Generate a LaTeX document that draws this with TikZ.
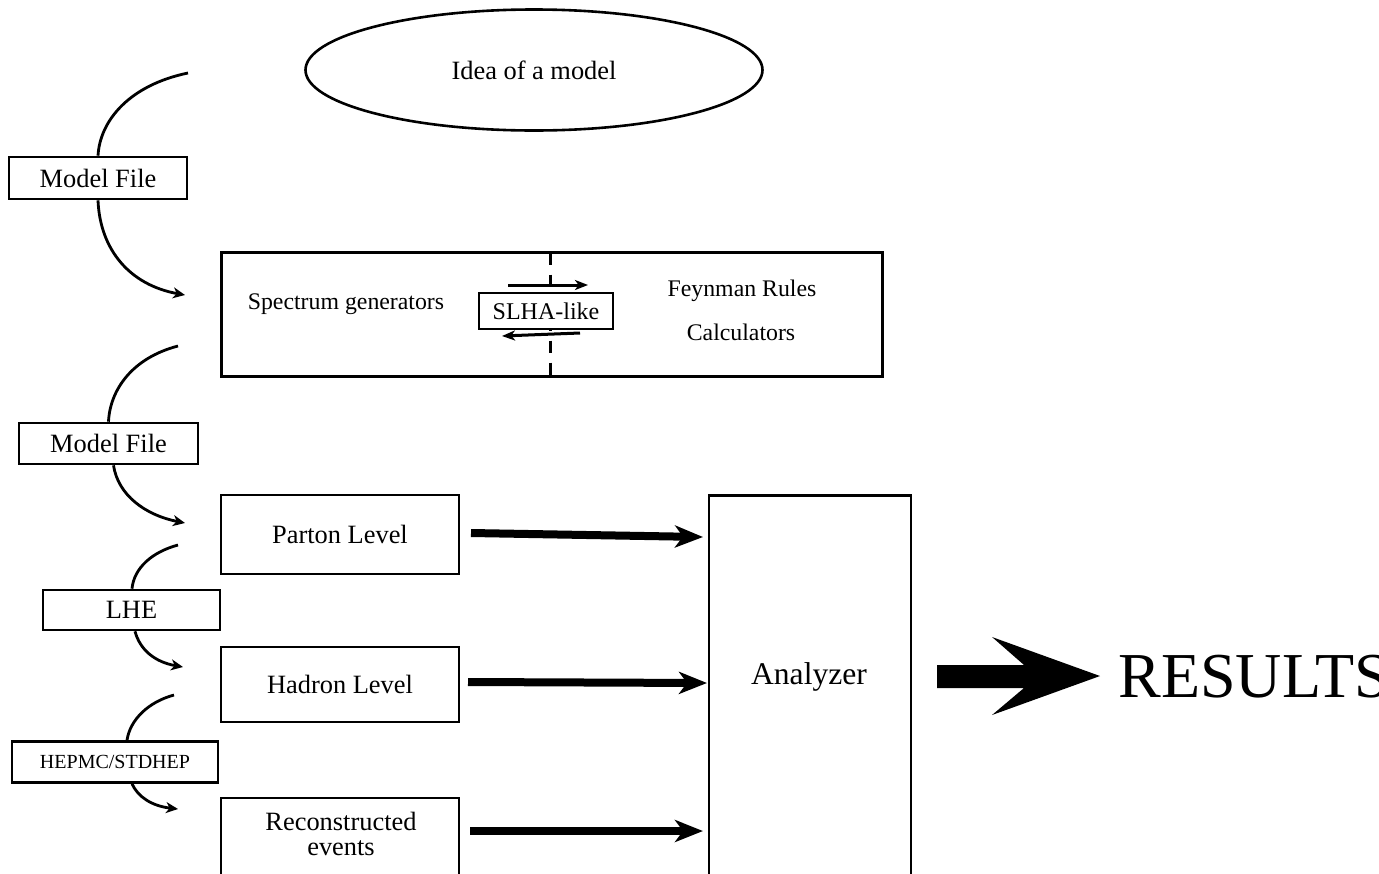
\documentclass[tikz,border=0pt]{standalone}
\usepackage{fontspec}
\setmainfont{Liberation Serif}
\usetikzlibrary{arrows.meta,shapes.geometric}
\begin{document}
\begin{tikzpicture}[x=0.5pt,y=-0.5pt,
  box/.style={draw, line width=1.3pt, inner sep=0pt, fill=white, align=center,
    font=\fontsize{13.2}{12.5}\selectfont},
  plain/.style={inner sep=0pt, font=\fontsize{11.9}{13}\selectfont},
  curve/.style={line width=1.4pt},
  curvearrow/.style={line width=1.4pt, -{Stealth[length=6pt,width=5.5pt,inset=1.8pt]}},
  thinarrow/.style={line width=1.5pt, -{Stealth[length=6.5pt,width=5pt,inset=1.8pt]}},
  fatarrow/.style={line width=4pt, -{Stealth[length=14pt,width=11pt,inset=4pt]}}
]
\useasboundingbox (0,0) rectangle (1379,873);

% top ellipse
\node[ellipse, draw, line width=1.3pt, minimum width=228.5pt, minimum height=60.5pt,
  inner sep=0pt, font=\fontsize{13.2}{15}\selectfont] (idea) at (534,70) {Idea of a model};

% model file 1
\node[box, minimum width=89pt, minimum height=21pt] (mf1) at (98,178) {Model File};
\coordinate (c1s) at (188,73);
\coordinate (c1e) at (185,295);
\draw[curve] (c1s) .. controls (130,85) and (100,120) .. (mf1.north);
\draw[curvearrow] (mf1.south) .. controls (100,250) and (130,285) .. (c1e);

% generators box
\node[draw, line width=1.5pt, minimum width=330.5pt, minimum height=62pt, inner sep=0pt] (gen) at (551.5,314) {};
\draw[line width=1.5pt, dash pattern=on 6pt off 5pt] ([yshift=-1pt]gen.north -| 550,0) -- (gen.south -| 550,0);
\node[plain] (spec) at (346,304) {Spectrum generators};
\node[plain] (feyn) at (742,291) {Feynman Rules};
\node[plain] (calc) at (741,332) {Calculators};
\node[draw, line width=0.6pt, fill=white, inner sep=0pt, minimum width=67pt, minimum height=18pt,
  font=\fontsize{12}{13}\selectfont] (slha) at (546,311) {SLHA-like};
\coordinate (ta1) at (508,285);
\coordinate (ta2) at (588,285);
\coordinate (ba1) at (580,333);
\coordinate (ba2) at (502,336);
\draw[thinarrow] (ta1) -- (ta2);
\draw[thinarrow] (ba1) -- (ba2);

% model file 2
\node[box, minimum width=89.5pt, minimum height=20.5pt] (mf2) at (108.5,443.5) {Model File};
\coordinate (c2s) at (178,346);
\coordinate (c2e) at (185,523);
\draw[curve] (c2s) .. controls (132,358) and (110,390) .. (mf2.north);
\draw[curvearrow] ([xshift=2.5pt]mf2.south) .. controls (118,495) and (145,515) .. (c2e);

% level boxes
\node[box, minimum width=119pt, minimum height=39.5pt] (parton) at (340,534.5) {Parton Level};
\node[box, minimum width=119pt, minimum height=37.5pt] (hadron) at (340,684.5) {Hadron Level};
\node[box, minimum width=119pt, minimum height=41pt] (reco) at (340,839) {};
\node[inner sep=0pt, align=center, font=\fontsize{13.2}{12.5}\selectfont] (recotext) at (341,834) {Reconstructed\\events};

% LHE
\node[box, minimum width=88.5pt, minimum height=20pt] (lhe) at (131.5,610) {LHE};
\coordinate (c3s) at (178,545);
\coordinate (c3e) at (183,667);
\draw[curve] (c3s) .. controls (152,552) and (134,568) .. ([xshift=0.25pt]lhe.north);
\draw[curvearrow] ([xshift=1.75pt]lhe.south) .. controls (140,650) and (155,662) .. (c3e);

% HEPMC
\node[box, minimum width=103pt, minimum height=20.5pt, font=\fontsize{10}{12}\selectfont] (hep) at (115,762) {HEPMC/STDHEP};
\coordinate (c4s) at (174,695);
\coordinate (c4e) at (178,809);
\draw[curve] (c4s) .. controls (148,702) and (130,720) .. ([xshift=6pt]hep.north);
\draw[curvearrow] ([xshift=8.5pt]hep.south) .. controls (138,797) and (152,806) .. (c4e);

% analyzer
\node[box, minimum width=101pt, minimum height=193pt] (ana) at (810,688.5) {};
\node[inner sep=0pt, font=\fontsize{15.8}{18}\selectfont] (anatext) at (809,677) {Analyzer};

% thick arrows
\coordinate (p1) at (471,533);
\coordinate (p2) at (703,537);
\coordinate (h1) at (468,682);
\coordinate (h2) at (707,683);
\coordinate (r1) at (470,831);
\coordinate (r2) at (703,831);
\draw[fatarrow] (p1) -- (p2);
\draw[fatarrow] (h1) -- (h2);
\draw[fatarrow] (r1) -- (r2);

% big arrow to results
\fill (937,665) -- (1024,665) -- (992,637) -- (1100,676) -- (992,715) -- (1024,688) -- (937,688) -- cycle;
\node[anchor=base west, inner sep=0pt, font=\fontsize{32}{36}\selectfont] (res) at (1118,697) {RESULTS};
\end{tikzpicture}
\end{document}
